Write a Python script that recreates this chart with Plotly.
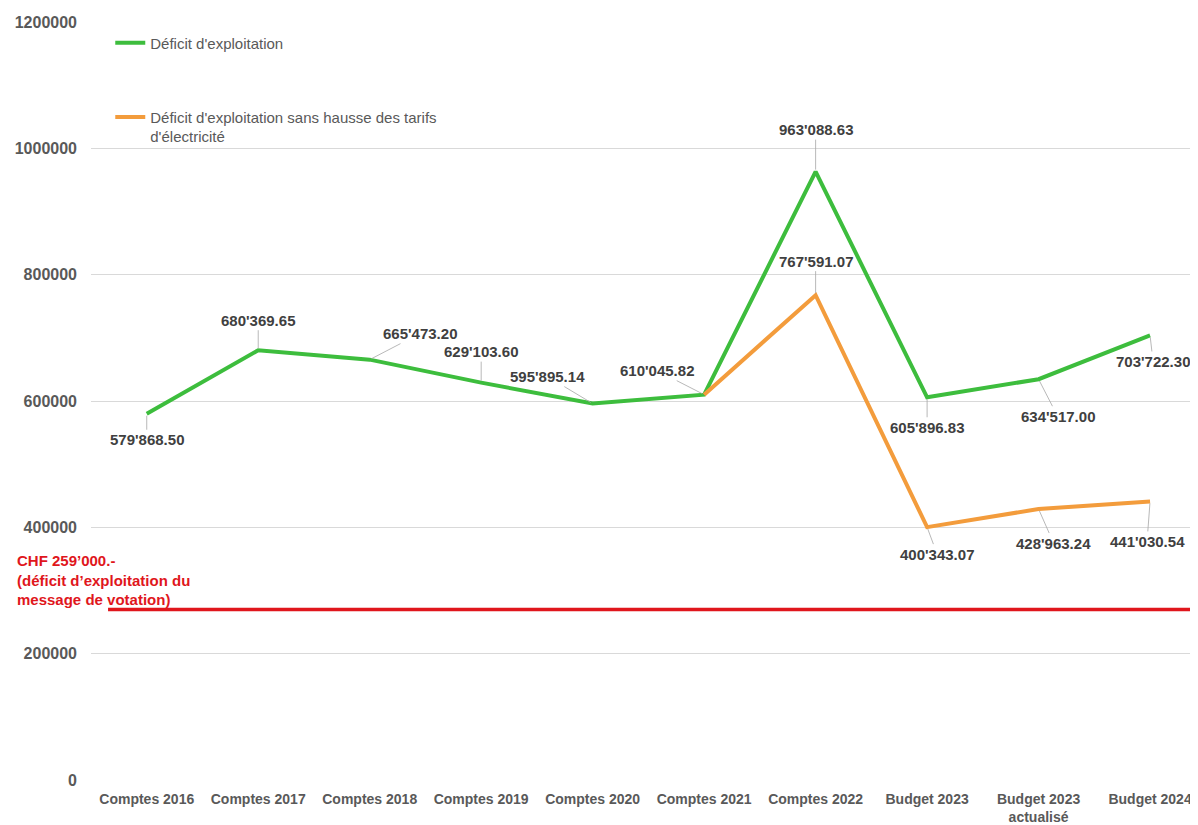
import plotly.graph_objects as go

# ---- data ----
categories = ["Comptes 2016", "Comptes 2017", "Comptes 2018", "Comptes 2019", "Comptes 2020",
              "Comptes 2021", "Comptes 2022", "Budget 2023", "Budget 2023<br>actualisé", "Budget 2024"]
deficit = [579868.50, 680369.65, 665473.20, 629103.60, 595895.14,
           610045.82, 963088.63, 605896.83, 634517.00, 703722.30]
deficit_sans_hausse = [None, None, None, None, None,
                       610045.82, 767591.07, 400343.07, 428963.24, 441030.54]
deficit_labels = ["579'868.50", "680'369.65", "665'473.20", "629'103.60", "595'895.14",
                  "610'045.82", "963'088.63", "605'896.83", "634'517.00", "703'722.30"]
sans_hausse_labels = [None, None, None, None, None,
                      None, "767'591.07", "400'343.07", "428'963.24", "441'030.54"]
vote_line_value = 270000
vote_line_text = "CHF 259’000.-<br>(déficit d’exploitation du<br>message de votation)"
series_names = ["Déficit d'exploitation",
                "Déficit d'exploitation sans hausse des tarifs<br>d'électricité"]
y_ticks = [0, 200000, 400000, 600000, 800000, 1000000, 1200000]

# ---- label offsets (px) ----
green_off = [(0, 26), (0, -30), (50, -26), (0, -31), (-45, -27),
             (-47, -24), (0, -42), (0, 30), (19, 37), (3, 26)]
orange_off = [None, None, None, None, None, None, (0, -34), (10, 27), (15, 34), (-3, 40)]

GREEN = "#3dbd3d"
ORANGE = "#f39c3c"
RED = "#e0161c"
FONT = "Liberation Sans, Arial, sans-serif"

fig = go.Figure()
fig.add_trace(go.Scatter(x=categories, y=deficit, mode="lines", name=series_names[0],
                         line=dict(color=GREEN, width=4), legend="legend"))
fig.add_trace(go.Scatter(x=categories, y=deficit_sans_hausse, mode="lines", name=series_names[1],
                         line=dict(color=ORANGE, width=4), legend="legend2"))

label_font = dict(family=FONT, size=15, color="#404040", weight="bold")
annotations = []
for i, (c, v, t) in enumerate(zip(categories, deficit, deficit_labels)):
    ax, ay = green_off[i]
    annotations.append(dict(x=c, y=v, xref="x", yref="y", text=t, showarrow=True,
                            arrowhead=0, arrowwidth=0.8, arrowcolor="#a6a6a6",
                            ax=ax, ay=ay, standoff=2, font=label_font))
for i, (c, v, t) in enumerate(zip(categories, deficit_sans_hausse, sans_hausse_labels)):
    if t is None:
        continue
    ax, ay = orange_off[i]
    annotations.append(dict(x=c, y=v, xref="x", yref="y", text=t, showarrow=True,
                            arrowhead=0, arrowwidth=0.8, arrowcolor="#a6a6a6",
                            ax=ax, ay=ay, standoff=2, font=label_font))
annotations.append(dict(x=-0.0686, y=0.264, xref="paper", yref="paper", xanchor="left",
                        yanchor="middle", align="left", text=vote_line_text, showarrow=False,
                        font=dict(family=FONT, size=15, color=RED, weight="bold")))

fig.add_shape(type="line", xref="paper", yref="y", x0=0.0154, x1=1.0,
              y0=vote_line_value, y1=vote_line_value,
              line=dict(color=RED, width=3.5))

fig.update_layout(
    width=1190, height=817,
    margin=dict(l=83, r=0, t=14, b=42),
    plot_bgcolor="white", paper_bgcolor="white",
    font=dict(family=FONT, color="#595959"),
    showlegend=True,
    legend=dict(x=0.0174, y=0.994, xanchor="left", yanchor="top", bgcolor="rgba(0,0,0,0)",
                font=dict(family=FONT, size=15, color="#595959")),
    legend2=dict(x=0.0174, y=0.896, xanchor="left", yanchor="top", bgcolor="rgba(0,0,0,0)",
                 valign="top", font=dict(family=FONT, size=15, color="#595959")),
    annotations=annotations,
    xaxis=dict(type="category", range=[-0.5, 9.43], showgrid=False, showline=False,
               zeroline=False, ticks="", ticklabelstandoff=9,
               tickfont=dict(family=FONT, size=14, color="#595959", weight="bold")),
    yaxis=dict(range=[0, 1200000], tickvals=y_ticks, tickformat="d", showgrid=True,
               gridcolor="#d9d9d9", gridwidth=1, zeroline=False, showline=False,
               ticklabelstandoff=13,
               tickfont=dict(family=FONT, size=16, color="#595959", weight="bold")),
)

fig.write_html("out.html")
